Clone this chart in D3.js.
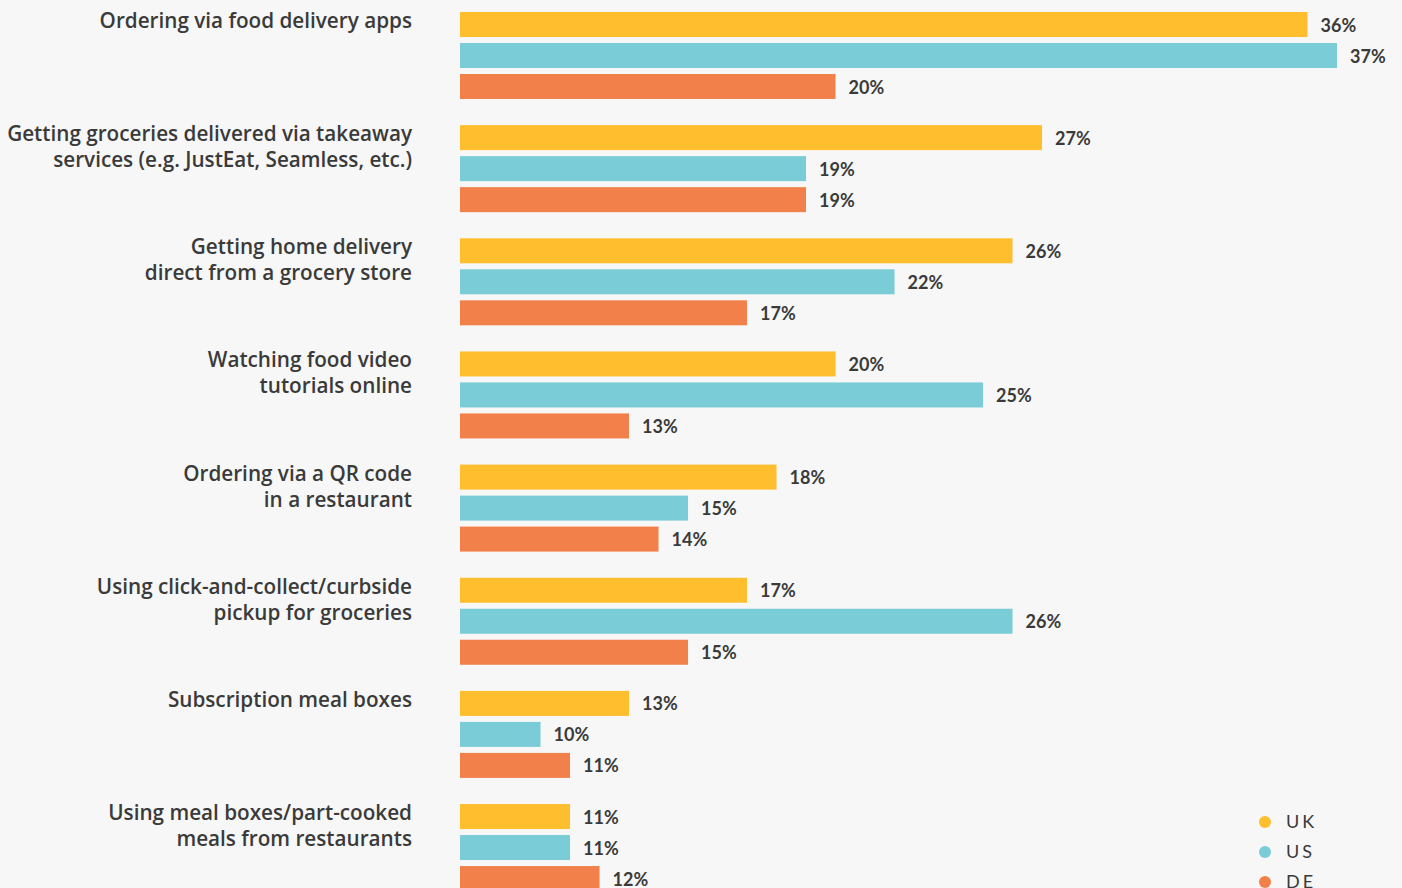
<!DOCTYPE html>
<html><head><meta charset="utf-8">
<script src="https://cdn.jsdelivr.net/npm/d3@7"></script>
<style>
html,body{margin:0;padding:0;background:#f7f7f7;}
svg{display:block;}
</style></head>
<body>
<svg id="chart" width="1402" height="888"></svg>
<script>
const categories = [
  ["Ordering via food delivery apps"],
  ["Getting groceries delivered via takeaway", "services (e.g. JustEat, Seamless, etc.)"],
  ["Getting home delivery", "direct from a grocery store"],
  ["Watching food video", "tutorials online"],
  ["Ordering via a QR code", "in a restaurant"],
  ["Using click-and-collect/curbside", "pickup for groceries"],
  ["Subscription meal boxes"],
  ["Using meal boxes/part-cooked", "meals from restaurants"]
];
const seriesNames = ["UK", "US", "DE"];
const ukValues = [36, 27, 26, 20, 18, 17, 13, 11];
const usValues = [37, 19, 22, 25, 15, 26, 10, 11];
const deValues = [20, 19, 17, 13, 14, 15, 11, 12];
const colors = ["#FFBE2E", "#7ACCD6", "#F2804B"];
const allSeries = [ukValues, usValues, deValues];

const svg = d3.select("#chart");
const x = d3.scaleLinear().domain([7.27, 37]).range([460, 1337]);
const yGroup = d3.scaleBand().domain(d3.range(categories.length)).range([12, 12 + 113.15 * 8]);
const barH = 25, pitch = 31;

const g = svg.append("g");
categories.forEach((lines, i) => {
  const gy = yGroup(i);
  const grp = g.append("g");
  const t = grp.append("text")
    .attr("x", 412).attr("y", gy + 16)
    .attr("text-anchor", "end")
    .attr("font-family", "'Open Sans', sans-serif")
    .attr("font-weight", 600)
    .attr("font-size", 20.7)
    .attr("fill", "#3a3a3a");
  lines.forEach((ln, k) => t.append("tspan").attr("x", 412).attr("dy", k === 0 ? 0 : 26).text(ln));
  allSeries.forEach((vals, s) => {
    const by = gy + s * pitch;
    grp.append("rect")
      .attr("x", x.range()[0]).attr("y", by)
      .attr("width", x(vals[i]) - x.range()[0]).attr("height", barH)
      .attr("fill", colors[s]);
    grp.append("text")
      .attr("x", x(vals[i]) + 13).attr("y", by + 19.5)
      .attr("font-family", "Lato, sans-serif")
      .attr("font-weight", "bold")
      .attr("font-size", 18)
      .attr("fill", "#3a3a3a")
      .text(vals[i] + "%");
  });
});

const leg = svg.append("g");
seriesNames.forEach((n, s) => {
  const ly = 822 + s * 30;
  leg.append("circle").attr("cx", 1265).attr("cy", ly).attr("r", 6).attr("fill", colors[s]);
  leg.append("text").attr("x", 1286).attr("y", ly + 6)
    .attr("font-family", "Lato, sans-serif").attr("font-size", 18)
    .attr("letter-spacing", 3).attr("fill", "#3a3a3a").text(n);
});
</script>
</body></html>
